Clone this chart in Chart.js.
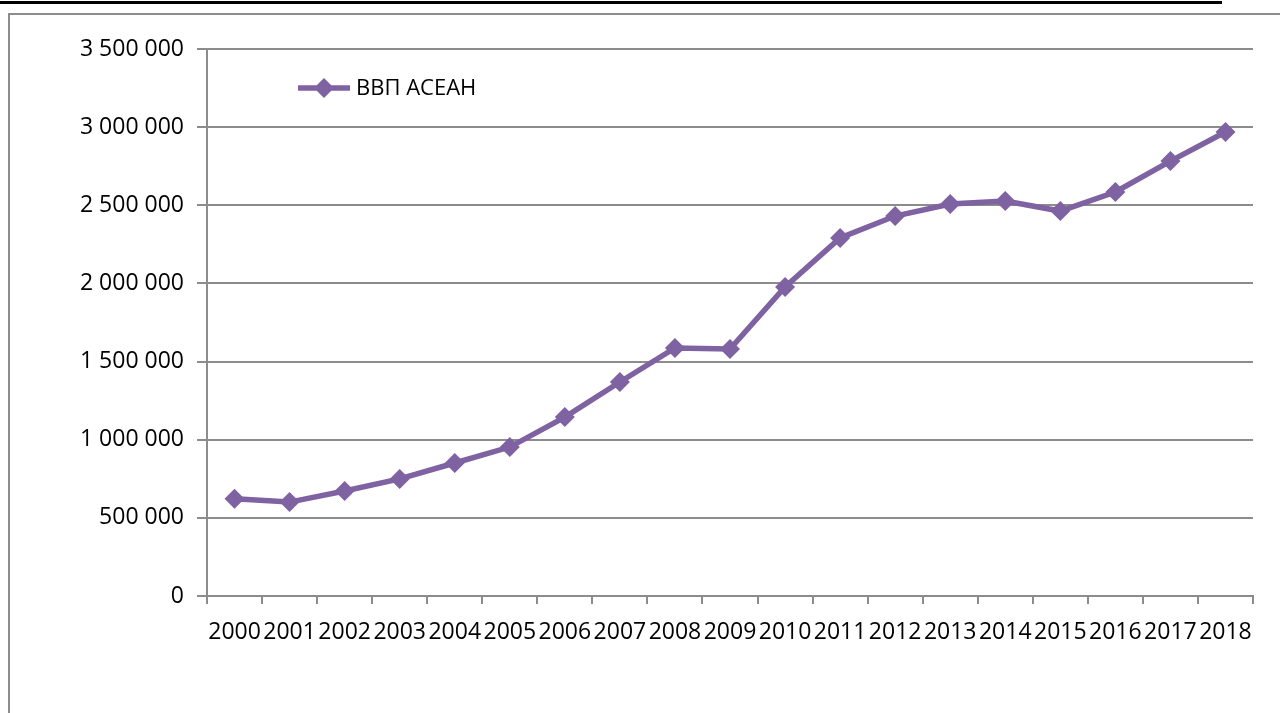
<!DOCTYPE html>
<html>
<head>
<meta charset="utf-8">
<script src="https://cdn.jsdelivr.net/npm/chart.js@4"></script>
<style>
  body { margin: 0; background: #fff; width: 1280px; height: 713px; overflow: hidden; position: relative; }
  #topLine { position: absolute; left: 0; top: 1px; width: 1222px; height: 3px; background: #000; }
  #frameTop { position: absolute; left: 8px; top: 13px; width: 1272px; height: 2px; background: #8c8c8c; }
  #frameLeft { position: absolute; left: 8px; top: 13px; width: 2px; height: 700px; background: #8c8c8c; }
  #wrap { position: absolute; left: 0; top: 0; width: 1280px; height: 713px; }
</style>
</head>
<body>
<div id="topLine"></div>
<div id="frameTop"></div>
<div id="frameLeft"></div>
<div id="wrap"><canvas id="gdpChart" width="1280" height="713"></canvas></div>
<script>
const years = ['2000','2001','2002','2003','2004','2005','2006','2007','2008','2009',
               '2010','2011','2012','2013','2014','2015','2016','2017','2018'];
const gdpAsean = [622000, 601000, 672000, 749000, 851000, 953000, 1145000, 1369000, 1587000, 1580000,
                  1977000, 2291000, 2431000, 2508000, 2527000, 2463000, 2585000, 2783000, 2969000];
const seriesName = 'ВВП АСЕАН';
const lineColor = '#7f62a1';

function fmt(v) {
  return String(v).replace(/\B(?=(\d{3})+(?!\d))/g, ' ');
}

// legend drawn inside the plot, like the original
const insideLegend = {
  id: 'insideLegend',
  afterDraw(chart) {
    const ctx = chart.ctx;
    const y = 88;
    ctx.save();
    ctx.strokeStyle = lineColor;
    ctx.lineWidth = 5.5;
    ctx.beginPath();
    ctx.moveTo(298, y);
    ctx.lineTo(350, y);
    ctx.stroke();
    ctx.fillStyle = lineColor;
    ctx.beginPath();
    ctx.moveTo(324, y - 10);
    ctx.lineTo(334, y);
    ctx.lineTo(324, y + 10);
    ctx.lineTo(314, y);
    ctx.closePath();
    ctx.fill();
    ctx.fillStyle = '#000';
    ctx.font = '22px "Open Sans"';
    ctx.textBaseline = 'middle';
    ctx.fillText(seriesName, 356, y + 1);
    ctx.restore();
  }
};

const ctx = document.getElementById('gdpChart').getContext('2d');
new Chart(ctx, {
  type: 'line',
  data: {
    labels: years,
    datasets: [{
      label: seriesName,
      data: gdpAsean,
      borderColor: lineColor,
      backgroundColor: lineColor,
      borderWidth: 5.5,
      pointStyle: 'rectRot',
      pointRadius: 10,
      pointBorderWidth: 0,
      tension: 0
    }]
  },
  options: {
    responsive: false,
    animation: false,
    devicePixelRatio: 1,
    layout: { padding: { top: 49, right: 27, left: 0, bottom: 0 } },
    plugins: {
      legend: { display: false },
      tooltip: { enabled: false }
    },
    scales: {
      x: {
        offset: true,
        grid: { offset: true, drawOnChartArea: false, drawTicks: true, tickLength: 8, color: '#8c8c8c', lineWidth: 2 },
        border: { color: '#8c8c8c', width: 2 },
        ticks: { color: '#000', font: { family: 'Open Sans', size: 23 }, autoSkip: false, maxRotation: 0, minRotation: 0, padding: 15 },
        afterFit(scale) { scale.height = 117; }
      },
      y: {
        min: 0,
        max: 3500000,
        grid: { color: '#8c8c8c', lineWidth: 2, tickLength: 10 },
        border: { color: '#8c8c8c', width: 2 },
        ticks: { stepSize: 500000, color: '#000', font: { family: 'Open Sans', size: 23 }, padding: 13, callback: v => fmt(v) },
        afterFit(scale) { scale.width = 207; }
      }
    }
  },
  plugins: [insideLegend]
});
</script>
</body>
</html>
